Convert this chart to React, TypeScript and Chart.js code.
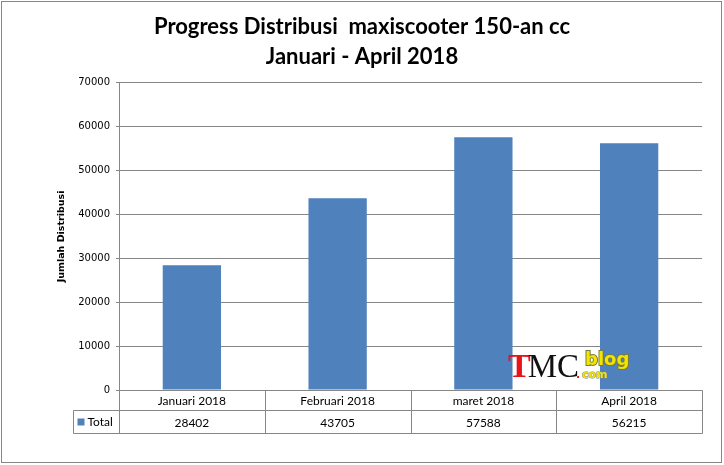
import React, { useEffect, useRef } from 'react';
import { Chart, registerables } from 'chart.js';
import type { Plugin } from 'chart.js';

Chart.register(...registerables);

const categories = ['Januari 2018', 'Februari 2018', 'maret 2018', 'April 2018'];
const totals = [28402, 43705, 57588, 56215];
const seriesName = 'Total';
const titleLines = ['Progress Distribusi  maxiscooter 150-an cc', 'Januari - April 2018'];
const yAxisTitle = 'Jumlah Distribusi';
const yMax = 70000;
const yStep = 10000;

const BAR_BLUE = '#4F81BD';
const LINE_GREY = '#868686';
const TEXT_FONT = 'Lato, "Open Sans", sans-serif';

// white page plus the grey frame round the whole chart
const framePlugin: Plugin<'bar'> = {
  id: 'frame',
  beforeDraw(chart) {
    const { ctx, width, height } = chart;
    ctx.save();
    ctx.fillStyle = '#fff';
    ctx.fillRect(0, 0, width, height);
    ctx.strokeStyle = LINE_GREY;
    ctx.lineWidth = 1;
    ctx.strokeRect(1.5, 1.5, width - 4, height - 4);
    ctx.restore();
  },
};

// Excel style data table under the plot
const dataTablePlugin: Plugin<'bar'> = {
  id: 'dataTable',
  afterDraw(chart) {
    const { ctx, chartArea } = chart;
    const x = chart.scales.x;
    const top = Math.round(chartArea.bottom) + 0.5;
    const row1 = 20;
    const row2 = 23;
    const legendLeft = 73.5;
    const right = Math.round(chartArea.right) + 0.5;
    const half = (x.getPixelForValue(1) - x.getPixelForValue(0)) / 2;

    ctx.save();
    ctx.strokeStyle = LINE_GREY;
    ctx.lineWidth = 1;
    ctx.beginPath();
    ctx.moveTo(Math.round(chartArea.left) + 0.5, top);
    ctx.lineTo(right, top);
    ctx.moveTo(legendLeft, top + row1);
    ctx.lineTo(right, top + row1);
    ctx.moveTo(legendLeft, top + row1 + row2);
    ctx.lineTo(right, top + row1 + row2);
    ctx.moveTo(legendLeft, top + row1);
    ctx.lineTo(legendLeft, top + row1 + row2);
    categories.forEach((_, i) => {
      const bx = Math.round(x.getPixelForValue(i) - half) + 0.5;
      ctx.moveTo(bx, top);
      ctx.lineTo(bx, top + row1 + row2);
    });
    ctx.moveTo(right, top);
    ctx.lineTo(right, top + row1 + row2);
    ctx.stroke();

    ctx.fillStyle = '#000';
    ctx.font = `12px ${TEXT_FONT}`;
    ctx.textAlign = 'center';
    ctx.textBaseline = 'middle';
    categories.forEach((c, i) => {
      const cx = x.getPixelForValue(i);
      ctx.fillText(c, cx, top + row1 / 2 + 1);
      ctx.fillText(String(totals[i]), cx, top + row1 + row2 / 2 + 1);
    });

    ctx.fillStyle = BAR_BLUE;
    ctx.fillRect(legendLeft + 4, top + row1 + 8, 7, 7);
    ctx.fillStyle = '#000';
    ctx.textAlign = 'left';
    ctx.fillText(seriesName, legendLeft + 14, top + row1 + row2 / 2);
    ctx.restore();
  },
};

// the TMC blog watermark over the plot
const logoPlugin: Plugin<'bar'> = {
  id: 'logo',
  afterDatasetsDraw(chart) {
    const { ctx } = chart;
    ctx.save();
    ctx.textBaseline = 'alphabetic';
    ctx.textAlign = 'left';
    ctx.font = 'bold 34px "Liberation Serif", serif';
    ctx.fillStyle = '#e8141b';
    ctx.fillText('T', 508, 377);
    const tw = ctx.measureText('T').width;
    ctx.fillStyle = '#111';
    ctx.font = '33px "Liberation Serif", serif';
    ctx.fillText('MC', 508 + tw - 3, 377);
    ctx.font = 'bold 18px "DejaVu Sans", sans-serif';
    ctx.lineWidth = 2;
    ctx.strokeStyle = '#7a7a3a';
    ctx.strokeText('blog', 585, 365);
    ctx.fillStyle = '#f2e600';
    ctx.fillText('blog', 585, 365);
    ctx.font = 'bold 11px "DejaVu Sans", sans-serif';
    ctx.fillStyle = '#e8141b';
    ctx.fillText('.', 576, 378);
    ctx.fillStyle = '#f2e600';
    ctx.strokeStyle = '#888';
    ctx.lineWidth = 1;
    ctx.strokeText('com', 582, 378);
    ctx.fillText('com', 582, 378);
    ctx.restore();
  },
};

const App: React.FC = () => {
  const canvasRef = useRef<HTMLCanvasElement>(null);
  const chartRef = useRef<Chart<'bar'> | null>(null);

  useEffect(() => {
    document.body.style.margin = '0';
    if (!canvasRef.current) return;
    const ctx = canvasRef.current.getContext('2d');
    if (!ctx) return;

    if (chartRef.current) chartRef.current.destroy();

    chartRef.current = new Chart(ctx, {
      type: 'bar',
      data: {
        labels: categories,
        datasets: [
          {
            label: seriesName,
            data: totals,
            backgroundColor: BAR_BLUE,
            barPercentage: 0.4,
            categoryPercentage: 1,
          },
        ],
      },
      options: {
        animation: false,
        responsive: true,
        maintainAspectRatio: false,
        layout: { padding: { left: 22, right: 22, top: 0, bottom: 75 } },
        plugins: {
          legend: { display: false },
          tooltip: { enabled: false },
          title: {
            display: true,
            text: titleLines,
            color: '#000',
            font: { family: TEXT_FONT, size: 22, weight: 'bold', lineHeight: 1.36 },
            padding: { top: 12, bottom: 11 },
          },
        },
        scales: {
          x: { display: false },
          y: {
            min: 0,
            max: yMax,
            ticks: {
              stepSize: yStep,
              color: '#000',
              padding: 6,
              font: { family: '"DejaVu Sans", sans-serif', size: 10 },
              callback: (v) => String(v),
            },
            grid: { color: LINE_GREY, tickLength: 3 },
            border: { color: LINE_GREY },
            title: {
              display: true,
              text: yAxisTitle,
              color: '#000',
              font: { family: '"DejaVu Sans", sans-serif', size: 9.5, weight: 'bold' },
              padding: { top: 34, bottom: 0 },
            },
            afterFit: (scale) => {
              scale.width = 97;
            },
          },
        },
      },
      plugins: [framePlugin, dataTablePlugin, logoPlugin],
    });

    return () => {
      if (chartRef.current) {
        chartRef.current.destroy();
        chartRef.current = null;
      }
    };
  }, []);

  return (
    <div style={{ position: 'relative', width: 724, height: 465 }}>
      <canvas ref={canvasRef}></canvas>
    </div>
  );
};

export default App;
